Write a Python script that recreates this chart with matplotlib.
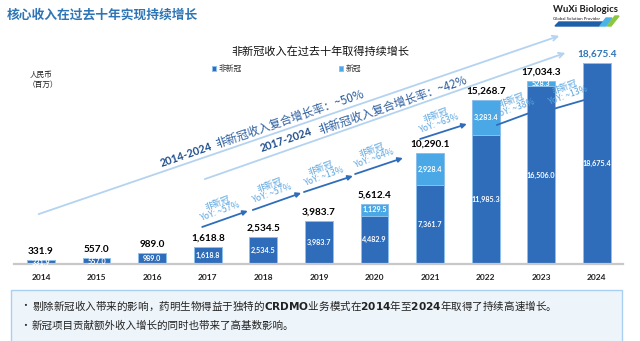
import matplotlib
matplotlib.use("Agg")
import matplotlib.pyplot as plt
from matplotlib.patches import Rectangle, Polygon
import numpy as np

plt.rcParams['font.family'] = ['Noto Sans CJK SC', 'DejaVu Sans']

# data (RMB mn)
years = ["2014", "2015", "2016", "2017", "2018", "2019", "2020", "2021", "2022", "2023", "2024"]
non_covid = [331.9, 557.0, 989.0, 1618.8, 2534.5, 3983.7, 4482.9, 7361.7, 11985.3, 16506.0, 18675.4]
covid = [0, 0, 0, 0, 0, 0, 1129.5, 2928.4, 3283.4, 528.3, 0]
totals = [331.9, 557.0, 989.0, 1618.8, 2534.5, 3983.7, 5612.4, 10290.1, 15268.7, 17034.3, 18675.4]
yoy_labels = ["~57%", "~57%", "~13%", "~64%", "~63%", "~38%", "~13%"]

# arrow layout (x in bar index, y in RMB mn)
arrow_start = [(2.90, 3440), (3.81, 5020), (4.73, 6690), (5.65, 8360), (6.82, 11620), (8.20, 12920), (9.15, 14310)]
arrow_end = [(3.72, 4930), (4.68, 6600), (5.61, 8180), (6.51, 9850), (7.66, 13010), (9.03, 14500), (9.96, 15520)]

dark = "#2F6DBA"
light = "#4BA8E6"
txt_blue = "#5BA5E0"
line_blue = "#B4D3F0"
navy = "#1F4E8C"

fig = plt.figure(figsize=(6.4, 3.41), dpi=100)
ax = fig.add_axes([14/640, 77/341, 609/640, 244/341])

x = np.arange(len(years))
b1 = ax.bar(x, non_covid, width=0.5, color=dark, edgecolor="#8CC0EA", linewidth=0.7, label="非新冠")
b2 = ax.bar(x, covid, width=0.5, bottom=non_covid, color=light, edgecolor="#8CC0EA", linewidth=0.7, label="新冠")

ax.set_xlim(-0.486, 10.47)
ax.set_ylim(0, 22677)
for s in ["top", "right", "left"]:
    ax.spines[s].set_visible(False)
ax.spines["bottom"].set_color("#C8C8C8")
ax.spines["bottom"].set_linewidth(1.6)
ax.set_yticks([])
ax.set_xticks(x)
ax.set_xticklabels(years, fontsize=6, fontweight="bold", color="#222222", family=["Lato", "DejaVu Sans"])
ax.tick_params(axis="x", length=0, pad=7)

# labels
for i in range(len(years)):
    ax.text(x[i], non_covid[i] / 2, f"{non_covid[i]:,.1f}", ha="center", va="center",
            fontsize=5.2, fontweight="bold", color="white", family=["Lato", "DejaVu Sans"])
    if covid[i] > 0:
        ax.text(x[i], non_covid[i] + covid[i] / 2, f"{covid[i]:,.1f}", ha="center", va="center",
                fontsize=5.2, fontweight="bold", color="white", family=["Lato", "DejaVu Sans"])
    c = "#2E75B6" if i == len(years) - 1 else "black"
    ax.annotate(f"{totals[i]:,.1f}", (x[i], totals[i]), xytext=(0, 3), textcoords="offset points",
                ha="center", va="bottom", fontsize=7.2, fontweight="bold", color=c, family=["Lato", "DejaVu Sans"])

# CAGR lines
ax.annotate("", xy=(9.37, 21283), xytext=(-0.09, 4554),
            arrowprops=dict(arrowstyle="->", color=line_blue, lw=1.3, mutation_scale=9))
ax.annotate("", xy=(9.48, 19703), xytext=(2.90, 7807),
            arrowprops=dict(arrowstyle="->", color=line_blue, lw=1.3, mutation_scale=9))

ax.text(2.61, 10130, "2014-2024", rotation=19, ha="center", va="center", rotation_mode="anchor",
        fontsize=7.8, fontweight="bold", color=navy, family=["Lato", "DejaVu Sans"])
ax.text(4.48, 13480, "非新冠收入复合增长率：~50%", rotation=19, ha="center", va="center",
        rotation_mode="anchor", fontsize=8.3, color="#2A5C9E")
ax.text(4.41, 11520, "2017-2024", rotation=19, ha="center", va="center", rotation_mode="anchor",
        fontsize=7.8, fontweight="bold", color=navy, family=["Lato", "DejaVu Sans"])
ax.text(6.33, 14780, "非新冠收入复合增长率：~42%", rotation=19, ha="center", va="center",
        rotation_mode="anchor", fontsize=8.3, color="#2A5C9E")

# yoy arrows
for s, e, lab in zip(arrow_start, arrow_end, yoy_labels):
    ax.annotate("", xy=e, xytext=s,
                arrowprops=dict(arrowstyle="-|>", color=dark, lw=1.3, mutation_scale=7, shrinkA=0, shrinkB=0))
    mx = (s[0] + e[0]) / 2
    my = (s[1] + e[1]) / 2
    ax.annotate("非新冠\nYoY: " + lab, (mx, my), xytext=(-4.5, 8.5), textcoords="offset points",
                ha="center", va="center", rotation=20, rotation_mode="anchor",
                fontsize=6.3, color=txt_blue, linespacing=1.0)

# legend
ax.legend(handles=[b1, b2], loc="center left", bbox_to_anchor=(205/640, 1 - 69/341),
          bbox_transform=fig.transFigure, ncol=2, frameon=False, fontsize=5.6,
          handlelength=0.55, handleheight=0.55, handletextpad=0.3, columnspacing=12.5,
          labelcolor="#333333")

# titles and texts
fig.text(7/640, 1 - 15/341, "核心收入在过去十年实现持续增长", fontsize=9.2, fontweight="bold",
         color="#2E75B6", ha="left", va="center")
fig.text(320/640, 1 - 52/341, "非新冠收入在过去十年取得持续增长", fontsize=8, color="#111111",
         ha="center", va="center")
fig.text(30/640, 1 - 75/341, "人民币", fontsize=5.5, color="#222222", ha="left", va="center")
fig.text(28/640, 1 - 85/341, "（百万）", fontsize=5.5, color="#222222", ha="left", va="center")

# logo
fig.text(553/640, 1 - 10/341, "WuXi Biologics", fontsize=6.8, fontweight="bold", color="#1A1A1A",
         ha="left", va="center", family=["Lato", "DejaVu Sans"])
fig.text(553/640, 1 - 19/341, "Global Solution Provider", fontsize=3.2, color="#1A1A1A",
         ha="left", va="center", family=["Lato", "DejaVu Sans"])
fig.patches.append(Polygon([[555/640, 1 - 26/341], [599/640, 1 - 26/341], [603/640, 1 - 22/341], [559/640, 1 - 22/341]],
                           closed=True, color="#1F5FA8", transform=fig.transFigure))
fig.patches.append(Polygon([[600/640, 1 - 26/341], [606/640, 1 - 26/341], [612/640, 1 - 18/341], [606/640, 1 - 18/341]],
                           closed=True, color="#4BB3E8", transform=fig.transFigure))
fig.patches.append(Polygon([[607/640, 1 - 26/341], [611/640, 1 - 26/341], [619/640, 1 - 16/341], [615/640, 1 - 16/341]],
                           closed=True, color="#8DC63F", transform=fig.transFigure))

# bottom box
fig.patches.append(Rectangle((11/640, -0.01), 611/640, 51/341 + 0.01, transform=fig.transFigure,
                             facecolor="#EEF5FA", edgecolor="#A9D0F0", linewidth=1.0))
fig.text(20/640, 1 - 306/341, "•", fontsize=7, color="#222222", ha="left", va="center")
fig.text(20/640, 1 - 326/341, "•", fontsize=7, color="#222222", ha="left", va="center")
fig.text(32/640, 1 - 306/341,
         "剔除新冠收入带来的影响，药明生物得益于独特的$\\bf{CRDMO}$业务模式在$\\bf{2014}$年至$\\bf{2024}$年取得了持续高速增长。",
         fontsize=7.6, color="#222222", ha="left", va="center")
fig.text(32/640, 1 - 326/341, "新冠项目贡献额外收入增长的同时也带来了高基数影响。",
         fontsize=7.6, color="#222222", ha="left", va="center")

fig.savefig("out.png", dpi=100)
